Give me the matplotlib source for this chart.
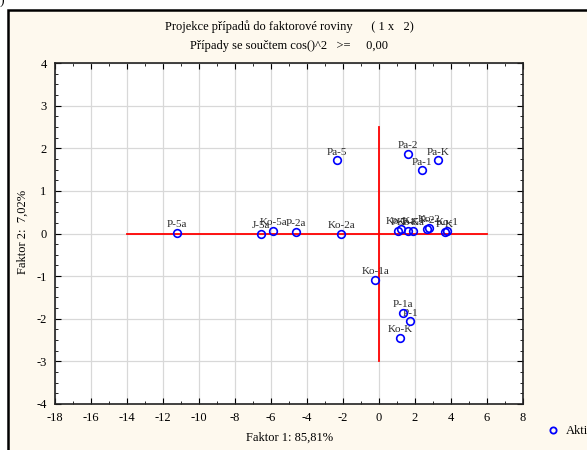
import matplotlib
matplotlib.use("Agg")
import matplotlib.pyplot as plt
from matplotlib.lines import Line2D
from matplotlib.patches import Rectangle
import matplotlib.ticker as mticker

plt.rcParams["font.family"] = ["Liberation Serif", "DejaVu Serif"]

_bg = "#FEF9EE"
_blue = "#0000FF"
_red = "#FF0000"

# case labels and factor scores (Faktor 1, Faktor 2)
labels = ["P-5a", "J-5a", "Ko-5a", "P-2a", "Ko-2a", "Pa-5",
          "Ko-1a", "P-1a", "P-1", "Ko-K",
          "Pa-2", "Pa-1", "Pa-K",
          "P-5", "Ko-Ka", "Ko-5", "P-Ka", "P-2", "Ko-2", "P-K", "Ko-1"]
faktor1 = [-11.22, -6.56, -5.87, -4.61, -2.11, -2.35,
           -0.20, 1.31, 1.74, 1.18,
           1.63, 2.39, 3.30,
           1.08, 1.20, 1.63, 1.90, 2.68, 2.80, 3.67, 3.76]
faktor2 = [0.02, -0.01, 0.07, 0.04, -0.01, 1.72,
           -1.09, -1.86, -2.06, -2.45,
           1.87, 1.48, 1.72,
           0.07, 0.10, 0.07, 0.07, 0.11, 0.13, 0.03, 0.06]

x_ticks = list(range(-18, 9, 2))
y_ticks = list(range(-4, 5))

fig = plt.figure(figsize=(5.87, 4.5), dpi=100)
fig.patch.set_facecolor("white")

# cream panel with black frame (cut from a document page)
panel = Rectangle((8 / 587, -0.1), 1.2, 1.1 - 10 / 450,
                  transform=fig.transFigure, facecolor=_bg,
                  edgecolor="black", linewidth=1.8, zorder=-5)
fig.add_artist(panel)
fig.text(0.0, 1.0, ")", fontsize=10, ha="left", va="center")

ax = fig.add_axes([55 / 587, 1 - 404 / 450, 468 / 587, 341 / 450])
ax.set_zorder(2)
ax.set_facecolor("white")

# reference axes through the origin
ax.plot([-14, 6], [0, 0], color=_red, linewidth=1.3, zorder=2)
ax.plot([0, 0], [-3, 2.5], color=_red, linewidth=1.3, zorder=2)

ax.plot(faktor1, faktor2, linestyle="none", marker="o", markersize=5.5,
        markerfacecolor="none", markeredgecolor=_blue, markeredgewidth=1.2,
        zorder=4)
for name, x, y in zip(labels, faktor1, faktor2):
    ax.annotate(name, (x, y), xytext=(0, 2.5), textcoords="offset points",
                ha="center", va="bottom", fontsize=8, color="#2A2A2A",
                zorder=3)

ax.set_xlim(-18, 8)
ax.set_ylim(-4, 4)
ax.set_xticks(x_ticks)
ax.set_yticks(y_ticks)
ax.set_xticklabels([str(t) for t in x_ticks])
ax.set_yticklabels([str(t) for t in y_ticks])
ax.xaxis.set_minor_locator(mticker.MultipleLocator(1))
ax.yaxis.set_minor_locator(mticker.MultipleLocator(0.25))
ax.tick_params(which="both", direction="in", top=True, right=True,
               labelsize=9, pad=6)
ax.tick_params(which="major", length=4, width=0.8)
ax.tick_params(which="minor", length=2.5, width=0.6)
ax.grid(True, which="major", color="#D8D8D8", linewidth=0.9, zorder=0)
ax.set_axisbelow(True)
for sp in ax.spines.values():
    sp.set_linewidth(1.2)
    sp.set_color("#222222")

fig.text(289 / 587, 1 - 27 / 450,
         "Projekce případů do faktorové roviny      ( 1 x   2)",
         ha="center", va="center", fontsize=9)
fig.text(289 / 587, 1 - 46 / 450,
         "Případy se součtem cos()^2   >=     0,00",
         ha="center", va="center", fontsize=9)
fig.text(290 / 587, 1 - 438 / 450, "Faktor 1: 85,81%",
         ha="center", va="center", fontsize=9)
fig.text(23 / 587, 1 - 232 / 450, "Faktor 2:  7,02%",
         ha="center", va="center", fontsize=9, rotation=90)

# legend entry in the lower right corner
fig.add_artist(Line2D([553 / 587], [1 - 430 / 450], transform=fig.transFigure,
                      marker="o", markersize=4.5, markerfacecolor="none",
                      markeredgecolor=_blue, markeredgewidth=1.3,
                      linestyle="none"))
fig.text(566 / 587, 1 - 431 / 450, "Aktiv", ha="left", va="center",
         fontsize=9)

fig.savefig("out.png", dpi=100, facecolor=fig.get_facecolor())
